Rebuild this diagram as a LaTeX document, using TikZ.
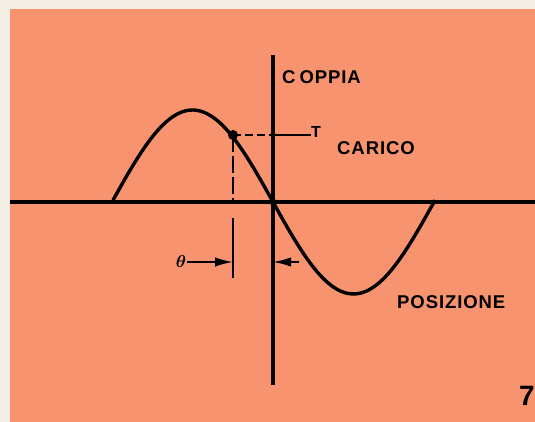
\documentclass[tikz,border=0pt]{standalone}
\usepackage{fontspec}
\setsansfont{Liberation Sans}
\newfontfamily\labfont[LetterSpace=5]{Liberation Sans}
\usetikzlibrary{arrows.meta,positioning,calc}
\definecolor{paper}{HTML}{F4EFE4}
\definecolor{salmon}{HTML}{F7936F}
\begin{document}
\begin{tikzpicture}[x=1pt,y=-1pt,>={Latex[length=18pt,width=9.5pt]},
  lab/.style={font=\labfont\bfseries\fontsize{18.5}{18.5}\selectfont,inner sep=0pt,anchor=west},
  axis/.style={line width=3.1pt},thin/.style={line width=2pt}]
\fill[paper] (0,0) rectangle (535,422);
\fill[salmon] (10,9) rectangle (535,422);
\useasboundingbox (0,0) rectangle (535,422);
% axes
\coordinate (O) at (273,202);
\coordinate (xl) at (10,202);\coordinate (xr) at (535,202);
\coordinate (yt) at (273,55);\coordinate (yb) at (273,385);
\draw[axis] (xl)--(xr);\draw[axis] (yt)--(yb);
% torque curve
\draw[axis,line width=3.4pt,line join=round,domain=-160:162,samples=90,smooth] plot ({273+\x},{202+92*sin(\x/161*180)});
\fill (O) circle[radius=3.5pt];
% load point
\coordinate (P) at (233,135);
\fill (P) circle[radius=5pt];
\node[lab,font=\labfont\bfseries\fontsize{16}{16}\selectfont] (tlab) at (311,132) {T};
\node[lab] (coppia) at (282,77) {C\kern4pt OPPIA};
\node[lab] (carico) at (337,148) {CARICO};
\node[lab] (posizione) at (397,302) {POSIZIONE};
\draw[thin,dash pattern=on 8pt off 4pt] (P)--(P -| O);\draw[thin] (P -| O)--(P -| tlab.west);
\draw[thin,dash pattern=on 17pt off 4pt] (P)--(P |- O);
% angle
\node[inner sep=1pt,font=\boldmath\fontsize{19}{19}\selectfont] (theta) at (181,261) {$\theta$};
\coordinate (ta) at (233,218);\coordinate (tb) at (233,278);
\coordinate (thl) at (233,262);\coordinate (thr) at (299,262);
\draw[thin] (ta)--(tb);
\draw[->,thin] (theta.east |- thl)--(thl);\draw[->,thin] (thr)--(O |- thr);
\node[font=\sffamily\bfseries\fontsize{28}{28}\selectfont,inner sep=0pt,anchor=east] (num) at (535,396) {7};
\end{tikzpicture}
\end{document}
